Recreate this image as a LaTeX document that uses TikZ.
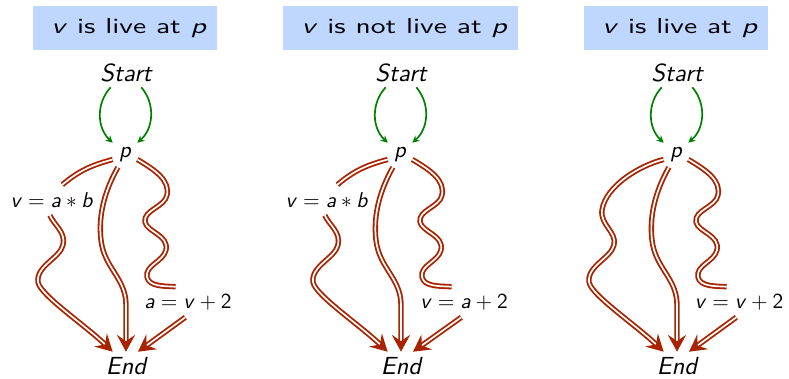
\documentclass[tikz,border=0pt]{standalone}
\usepackage{xcolor}
\usepackage{graphicx}
\usepackage{tikz}
\usetikzlibrary{arrows.meta}

\definecolor{headblue}{RGB}{191,215,255}
\definecolor{flowred}{RGB}{168,36,0}
\definecolor{ctrlgreen}{RGB}{0,128,0}

% text is set at 10pt and blown up, so the glyphs keep their wide shapes
\newcommand{\headlbl}[1]{\scalebox{2.1}[1.54]{#1}}
\newcommand{\termlbl}[1]{\scalebox{1.76}{\itshape #1}}
\newcommand{\proglbl}[1]{\scalebox{1.6}{\itshape #1}}
\newcommand{\stmtlbl}[1]{\scalebox{1.52}{#1}}

\begin{document}
\begin{tikzpicture}[
    x=0.025cm, y=-0.025cm,
    headbox/.style={fill=headblue, minimum height=1.1cm, inner xsep=7pt, font=\sffamily\fontsize{10}{12}\selectfont},
    term/.style={inner sep=0pt, minimum height=0.7cm, font=\sffamily\fontsize{10}{12}\selectfont},
    prog/.style={inner sep=0pt, minimum size=0.6cm, font=\sffamily\fontsize{10}{12}\selectfont},
    stmt/.style={inner sep=0pt, minimum height=0.75cm, font=\sffamily\fontsize{10}{12}\selectfont},
    ctrl/.style={draw=ctrlgreen, line width=1.2pt, -{Stealth[length=5pt, width=5pt]}},
    dflow/.style={draw=flowred, line width=1.3pt, double=white, double distance=1.2pt},
    dtip/.style={-{Stealth[length=12pt, width=13pt, inset=4.5pt]}},
]
\useasboundingbox (0,0) rectangle (789,378);

% left: v is live at p
\begin{scope}
\node[headbox] (h1) at (125,28) {\hspace{6pt}\headlbl{\textit{v} is live at \textit{p}}};
\node[term] (s1) at (126,73) {\termlbl{Start}};
\node[prog] (p1) at (125,155) {\proglbl{p}};
\node[term] (e1) at (126,366) {\termlbl{End}};
\node[stmt] (a1) at (52,200) {\stmtlbl{\textit{v}${}={}$\textit{a}${}\ast{}$\textit{b}}};
\node[stmt] (b1) at (188,302) {\stmtlbl{\textit{a}${}={}$\textit{v}${}+{}$2}};

\draw[ctrl] (s1.223) to[bend right=45] (p1.north west);
\draw[ctrl] (s1.317) to[bend left=45] (p1.north east);
\draw[dflow] (p1.200) to[out=195, in=40] (a1.56);
\draw[dflow, dtip] (a1.-98) .. controls (54,225) and (66,232) .. (63,245)
    .. controls (60,258) and (36,266) .. (38,282) .. controls (40,295) and (85,325) .. (e1.133);
\draw[dflow, dtip] (p1.-120) .. controls (105,190) and (98,215) .. (101,240)
    .. controls (104,268) and (126,278) .. (126,305) -- (e1.north);
\draw[dflow] (p1.-20) .. controls (155,170) and (170,180) .. (167,195)
    .. controls (165,207) and (143,210) .. (145,222) .. controls (147,232) and (169,235) .. (166,250)
    .. controls (163,262) and (145,265) .. (147,277) .. controls (149,287) and (165,286) .. (b1.129);
\draw[dflow, dtip] (b1.-100) -- (e1.50);
\end{scope}

% middle: v is not live at p
\begin{scope}[shift={(275,0)}]
\node[headbox] (h2) at (125.5,28) {\hspace{6pt}\headlbl{\textit{v} is not live at \textit{p}}};
\node[term] (s2) at (126,73) {\termlbl{Start}};
\node[prog] (p2) at (125,155) {\proglbl{p}};
\node[term] (e2) at (126,366) {\termlbl{End}};
\node[stmt] (a2) at (52,200) {\stmtlbl{\textit{v}${}={}$\textit{a}${}\ast{}$\textit{b}}};
\node[stmt] (b2) at (189,302) {\stmtlbl{\textit{v}${}={}$\textit{a}${}+{}$2}};

\draw[ctrl] (s2.223) to[bend right=45] (p2.north west);
\draw[ctrl] (s2.317) to[bend left=45] (p2.north east);
\draw[dflow] (p2.200) to[out=195, in=40] (a2.56);
\draw[dflow, dtip] (a2.-98) .. controls (54,225) and (66,232) .. (63,245)
    .. controls (60,258) and (36,266) .. (38,282) .. controls (40,295) and (85,325) .. (e2.133);
\draw[dflow, dtip] (p2.-120) .. controls (105,190) and (98,215) .. (101,240)
    .. controls (104,268) and (126,278) .. (126,305) -- (e2.north);
\draw[dflow] (p2.-20) .. controls (155,170) and (170,180) .. (167,195)
    .. controls (165,207) and (143,210) .. (145,222) .. controls (147,232) and (169,235) .. (166,250)
    .. controls (163,262) and (145,265) .. (147,277) .. controls (149,287) and (165,286) .. (b2.129);
\draw[dflow, dtip] (b2.-100) -- (e2.50);
\end{scope}

% right: v is live at p, no assignment on the left path
\begin{scope}[shift={(551,0)}]
\node[headbox] (h3) at (125,28) {\hspace{6pt}\headlbl{\textit{v} is live at \textit{p}}};
\node[term] (s3) at (126,73) {\termlbl{Start}};
\node[prog] (p3) at (125,155) {\proglbl{p}};
\node[term] (e3) at (126,366) {\termlbl{End}};
\node[stmt] (b3) at (188,302) {\stmtlbl{\textit{v}${}={}$\textit{v}${}+{}$2}};

\draw[ctrl] (s3.223) to[bend right=45] (p3.north west);
\draw[ctrl] (s3.317) to[bend left=45] (p3.north east);
\draw[dflow, dtip] (p3.200) .. controls (90,165) and (55,185) .. (51,210)
    .. controls (49,225) and (66,232) .. (63,245) .. controls (60,258) and (36,266) .. (38,282)
    .. controls (40,295) and (85,325) .. (e3.133);
\draw[dflow, dtip] (p3.-120) .. controls (105,190) and (98,215) .. (101,240)
    .. controls (104,268) and (126,278) .. (126,305) -- (e3.north);
\draw[dflow] (p3.-20) .. controls (155,170) and (170,180) .. (167,195)
    .. controls (165,207) and (143,210) .. (145,222) .. controls (147,232) and (169,235) .. (166,250)
    .. controls (163,262) and (145,265) .. (147,277) .. controls (149,287) and (165,286) .. (b3.129);
\draw[dflow, dtip] (b3.-100) -- (e3.50);
\end{scope}

\end{tikzpicture}
\end{document}
